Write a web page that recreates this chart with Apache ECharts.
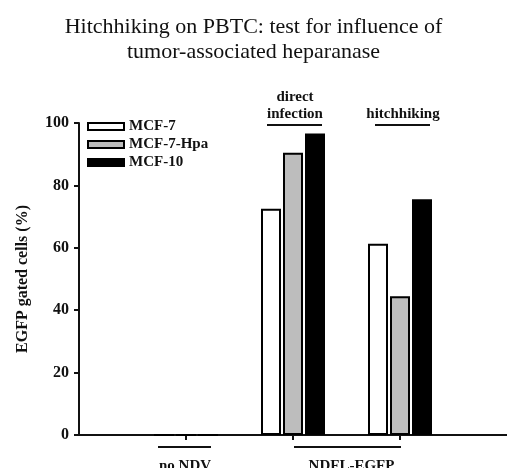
<!DOCTYPE html>
<html>
<head>
<meta charset="utf-8">
<script src="https://cdn.jsdelivr.net/npm/echarts@6/dist/echarts.min.js"></script>
<style>
  html, body { margin: 0; padding: 0; background: #fff; }
  #chart { width: 507px; height: 468px; }
</style>
</head>
<body>
<div id="chart"></div>
<script>
// categories: empty slots at both ends so the groups sit on the ticks
const categories = ['', 'no NDV', 'direct infection', 'hitchhiking', '']
const seriesNames = ['MCF-7', 'MCF-7-Hpa', 'MCF-10']
const mcf7 = ['-', 0, 72.5, 61.3, '-']
const mcf7Hpa = ['-', 0, 90.5, 44.5, '-']
const mcf10 = ['-', 0, 96.6, 75.6, '-']
const yTicks = [0, 20, 40, 60, 80, 100]

const FONT = 'Liberation Serif'
const barColors = ['#ffffff', '#bdbdbd', '#000000']

const baseBar = {
  type: 'bar',
  barWidth: 20,
  barGap: '10%',
  itemStyle: { borderColor: '#000', borderWidth: 2 },
  silent: true,
}

const chart = echarts.init(document.getElementById('chart'))
chart.setOption({
  animation: false,
  textStyle: { fontFamily: FONT },
  title: {
    text: 'Hitchhiking on PBTC: test for influence of\ntumor-associated heparanase',
    left: 'center',
    top: 10,
    textStyle: { fontFamily: FONT, fontWeight: 'normal', fontSize: 22, lineHeight: 25, color: '#111' },
  },
  legend: {
    orient: 'vertical',
    left: 82,
    top: 114,
    icon: 'rect',
    itemWidth: 36,
    itemHeight: 7,
    itemGap: 3,
    data: seriesNames,
    textStyle: { fontFamily: FONT, fontWeight: 'bold', fontSize: 15, color: '#111' },
  },
  grid: { left: 79, right: 0, top: 123, bottom: 33 },
  xAxis: {
    type: 'category',
    data: categories,
    boundaryGap: false,
    axisLine: { lineStyle: { color: '#111', width: 2 } },
    axisTick: {
      length: 5,
      lineStyle: { color: '#111', width: 2 },
      interval: (i) => i >= 1 && i <= 3,
    },
    axisLabel: { show: false },
  },
  yAxis: {
    type: 'value',
    min: 0,
    max: 100,
    interval: 20,
    name: 'EGFP gated cells (%)',
    nameLocation: 'middle',
    nameGap: 48,
    nameTextStyle: { fontFamily: FONT, fontWeight: 'bold', fontSize: 16, color: '#111' },
    axisLine: { show: true, lineStyle: { color: '#111', width: 2 } },
    axisTick: { show: true, length: 5, lineStyle: { color: '#111', width: 2 } },
    axisLabel: {
      margin: 10,
      fontFamily: FONT, fontWeight: 'bold', fontSize: 16, color: '#111',
      formatter: (v) => (yTicks.includes(v) ? String(v) : ''),
    },
    splitLine: { show: false },
  },
  series: [
    { ...baseBar, name: seriesNames[0], data: mcf7, itemStyle: { ...baseBar.itemStyle, color: barColors[0] } },
    { ...baseBar, name: seriesNames[1], data: mcf7Hpa, itemStyle: { ...baseBar.itemStyle, color: barColors[1] } },
    { ...baseBar, name: seriesNames[2], data: mcf10, itemStyle: { ...baseBar.itemStyle, color: barColors[2] } },
  ],
})

// group annotations placed from the axis scales
const px = (cat) => chart.convertToPixel({ xAxisIndex: 0 }, cat)
const py = (v) => chart.convertToPixel({ yAxisIndex: 0 }, v)
const xNo = px('no NDV')
const xDirect = px('direct infection')
const xHitch = px('hitchhiking')
const yTop = py(100)
const yBase = py(0)
const labelStyle = { fontFamily: FONT, fontWeight: 'bold', fontSize: 15, fill: '#111', align: 'center', verticalAlign: 'middle' }
const rule = (x1, x2, y) => ({ type: 'line', shape: { x1, y1: y, x2, y2: y }, style: { stroke: '#111', lineWidth: 2 } })
const label = (text, x, y) => ({ type: 'text', x, y, style: { ...labelStyle, text } })

chart.setOption({
  graphic: [
    label('direct', xDirect + 2, yTop - 26),
    label('infection', xDirect + 2, yTop - 9),
    rule(xDirect - 26, xDirect + 29, yTop + 2),
    label('hitchhiking', xHitch + 3, yTop - 9),
    rule(xHitch - 25, xHitch + 30, yTop + 2),
    rule(xNo - 28, xNo + 25, yBase + 12),
    label('no NDV', xNo - 1, yBase + 31),
    rule(xDirect + 1, xHitch + 1, yBase + 12),
    label('NDFL-EGFP', (xDirect + xHitch) / 2 + 5, yBase + 31),
  ],
})
</script>
</body>
</html>
